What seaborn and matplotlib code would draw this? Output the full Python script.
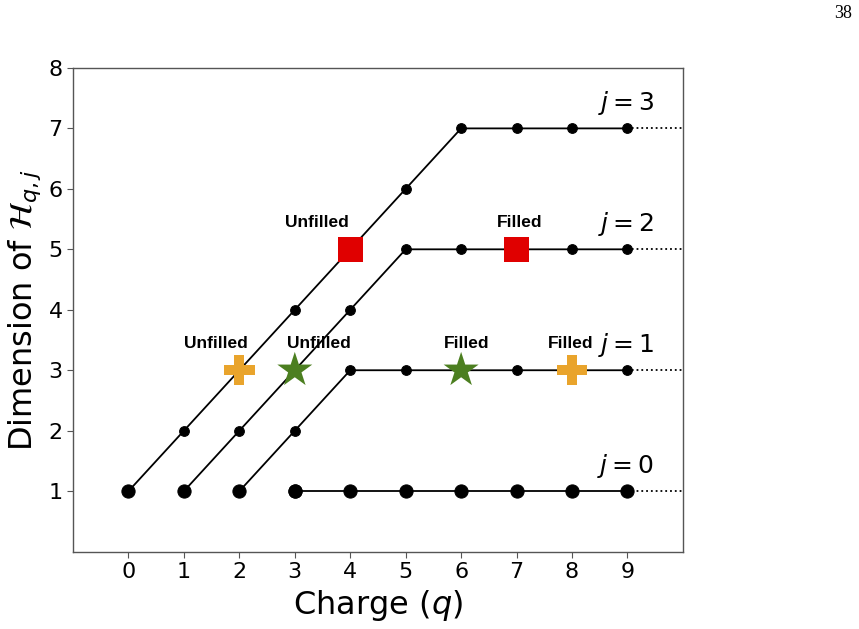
import seaborn as sns
import matplotlib.pyplot as plt
import pandas as pd

# dimension of H_{q,j} for each j, charge q from the first allowed value up to 9
q_j0 = [3, 4, 5, 6, 7, 8, 9]
dim_j0 = [1, 1, 1, 1, 1, 1, 1]
q_j1 = [2, 3, 4, 5, 6, 7, 8, 9]
dim_j1 = [1, 2, 3, 3, 3, 3, 3, 3]
q_j2 = [1, 2, 3, 4, 5, 6, 7, 8, 9]
dim_j2 = [1, 2, 3, 4, 5, 5, 5, 5, 5]
q_j3 = [0, 1, 2, 3, 4, 5, 6, 7, 8, 9]
dim_j3 = [1, 2, 3, 4, 5, 6, 7, 7, 7, 7]

series = [("0", q_j0, dim_j0), ("1", q_j1, dim_j1),
          ("2", q_j2, dim_j2), ("3", q_j3, dim_j3)]

# highlighted states
plus_q = [2, 8]
plus_dim = [3, 3]
plus_lab = ["Unfilled", "Filled"]
star_q = [3, 6]
star_dim = [3, 3]
star_lab = ["Unfilled", "Filled"]
sq_q = [4, 7]
sq_dim = [5, 5]
sq_lab = ["Unfilled", "Filled"]

sns.set_style("white")
plt.rcParams["text.color"] = "black"
plt.rcParams["axes.labelcolor"] = "black"
plt.rcParams["xtick.color"] = "black"
plt.rcParams["ytick.color"] = "black"

fig, ax = plt.subplots(figsize=(8.59, 6.29), dpi=100)
fig.subplots_adjust(left=0.085, right=0.795, bottom=0.123, top=0.892)

for j, qs, ds in series:
    df = pd.DataFrame({"q": qs, "dim": ds})
    big = (j == "0")
    sns.lineplot(data=df, x="q", y="dim", color="black", lw=1.3,
                 marker="o", markersize=9.5 if big else 7,
                 markeredgecolor="black", ax=ax)
    # first point of each tower drawn larger
    sns.lineplot(x=[qs[0]], y=[ds[0]], color="black", marker="o",
                 markersize=9.5, markeredgecolor="black", ax=ax)
    # dotted continuation
    ax.plot([qs[-1], 10], [ds[-1], ds[-1]], color="black", ls=":", lw=1.3)
    ax.text(8.97, ds[-1] + 0.42, f"$j={j}$", fontsize=18, ha="center",
            va="center")

sns.scatterplot(x=plus_q, y=plus_dim, marker="P", s=480, color="#E9A42C",
                edgecolor="none", ax=ax, zorder=5)
sns.scatterplot(x=star_q, y=star_dim, marker="*", s=700, color="#4C7F20",
                edgecolor="none", ax=ax, zorder=5)
sns.scatterplot(x=sq_q, y=sq_dim, marker="s", s=330, color="#E00000",
                edgecolor="none", ax=ax, zorder=5)

# label offsets
lab_dx = {(2, "Unfilled"): -0.43, (3, "Unfilled"): 0.43, (4, "Unfilled"): -0.6,
          (6, "Filled"): 0.1, (7, "Filled"): 0.06, (8, "Filled"): -0.02}
for qs, ds, labs in [(plus_q, plus_dim, plus_lab), (star_q, star_dim, star_lab),
                     (sq_q, sq_dim, sq_lab)]:
    for q, d, lab in zip(qs, ds, labs):
        ax.text(q + lab_dx[(q, lab)], d + 0.45, lab, fontsize=12.5,
                fontweight="bold", family="Liberation Sans", ha="center",
                va="center")

ax.set_xlim(-1, 10)
ax.set_ylim(0, 8)
ax.set_xticks(range(0, 10))
ax.set_yticks(range(1, 9))
ax.tick_params(labelsize=16, length=4, color="#555555", labelcolor="black",
               direction="out", bottom=True, left=True)
for s in ax.spines.values():
    s.set_color("#555555")
    s.set_linewidth(1.0)
ax.set_xlabel("Charge ($q$)", fontsize=23)
ax.set_ylabel(r"Dimension of $\mathcal{H}_{q,j}$", fontsize=23)

fig.text(843 / 859, 1 - 14 / 629, "38", family="Liberation Serif",
         fontsize=13, ha="center", va="center")

fig.savefig("out.png", dpi=100)
